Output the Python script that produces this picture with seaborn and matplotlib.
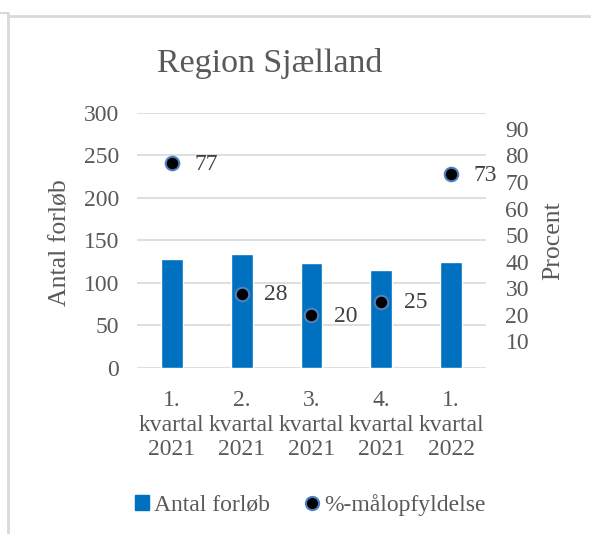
import matplotlib
matplotlib.use("Agg")
import matplotlib.pyplot as plt
from matplotlib.lines import Line2D
from matplotlib.patches import Patch
import seaborn as sns
import pandas as pd
import numpy as np

# data
kvartaler = ["1.\nkvartal\n2021", "2.\nkvartal\n2021", "3.\nkvartal\n2021",
             "4.\nkvartal\n2021", "1.\nkvartal\n2022"]
antal_forloeb = [128, 134, 123, 115, 125]
maalopfyldelse = [77, 28, 20, 25, 73]

venstre_ticks = [0, 50, 100, 150, 200, 250, 300]
hoejre_ticks = [10, 20, 30, 40, 50, 60, 70, 80, 90]

BAR_COLOR = "#0070C0"
DOT_EDGE = "#4F81BD"
TEXT = "#595959"
GRID = "#d9d9d9"

sns.set_theme(style="white")
plt.rcParams["font.family"] = ["Liberation Serif", "DejaVu Serif"]
plt.rcParams["text.color"] = TEXT
plt.rcParams["axes.labelcolor"] = TEXT
plt.rcParams["xtick.color"] = TEXT
plt.rcParams["ytick.color"] = TEXT

df = pd.DataFrame({"kvartal": kvartaler,
                   "antal": antal_forloeb,
                   "pct": maalopfyldelse})
df["pos"] = np.arange(len(df))

fig = plt.figure(figsize=(5.91, 5.34), dpi=100)
ax = fig.add_axes([0.2318, 0.311, 0.5905, 0.4775])

sns.barplot(data=df, x="kvartal", y="antal", color=BAR_COLOR, saturation=1,
            width=0.31, ax=ax, zorder=2)
ax.set_ylim(0, 300)
ax.set_yticks(venstre_ticks)
ax.set_xlim(-0.5, len(df) - 0.5)
ax.grid(axis="y", color=GRID, linewidth=1.2)
ax.set_axisbelow(True)
for s in ax.spines.values():
    s.set_visible(False)
ax.tick_params(axis="y", length=0, pad=13, labelsize=17)
ax.tick_params(axis="x", length=0, pad=16, labelsize=17)
for lbl in ax.get_xticklabels():
    lbl.set_linespacing(1.22)
ax.set_xlabel("")
ax.set_ylabel("Antal forløb", fontsize=18.5, va="center")
ax.yaxis.set_label_coords(-0.222, 0.49)

ax2 = ax.twinx()
sns.scatterplot(data=df, x="pos", y="pct", ax=ax2, color="black",
                edgecolor=DOT_EDGE, linewidth=1.5, s=95, zorder=3, legend=False)
ax2.set_ylim(0, 96)
ax2.set_yticks(hoejre_ticks)
ax2.set_xlim(-0.5, len(df) - 0.5)
for s in ax2.spines.values():
    s.set_visible(False)
ax2.tick_params(axis="y", length=0, pad=14, labelsize=17)
ax2.set_ylabel("Procent", fontsize=18.5, va="center", rotation=90)
ax2.yaxis.set_label_coords(1.192, 0.50)
ax2.set_xlabel("")

for x, v in zip(df["pos"], df["pct"]):
    ax2.annotate(str(v), (x, v), xytext=(16, -1), textcoords="offset points",
                 ha="left", va="center", fontsize=17, color="#404040")

fig.text(0.457, 1 - 72 / 534, "Region Sjælland", ha="center", va="baseline",
         fontsize=24.5, color=TEXT)

handles = [Patch(facecolor=BAR_COLOR, edgecolor=BAR_COLOR),
           Line2D([], [], marker="o", linestyle="none", markerfacecolor="black",
                  markeredgecolor=DOT_EDGE, markeredgewidth=1.5, markersize=9.5)]
fig.legend(handles, ["Antal forløb", "%-målopfyldelse"], loc="center",
           bbox_to_anchor=(0.525, 1 - 505 / 534), ncol=2, frameon=False,
           fontsize=17, handlelength=0.6, handleheight=0.6, handletextpad=0.2,
           columnspacing=1.5)

# chart area border
fig.add_artist(Line2D([8 / 591, 8 / 591], [0, 1 - 13 / 534],
                      transform=fig.transFigure, color=GRID, linewidth=2))
fig.add_artist(Line2D([8 / 591, 1], [1 - 16 / 534, 1 - 16 / 534],
                      transform=fig.transFigure, color=GRID, linewidth=2))
fig.add_artist(Line2D([0, 8 / 591], [1 - 13 / 534, 1 - 13 / 534],
                      transform=fig.transFigure, color=GRID, linewidth=1.5))

fig.savefig("out.png", dpi=100)
